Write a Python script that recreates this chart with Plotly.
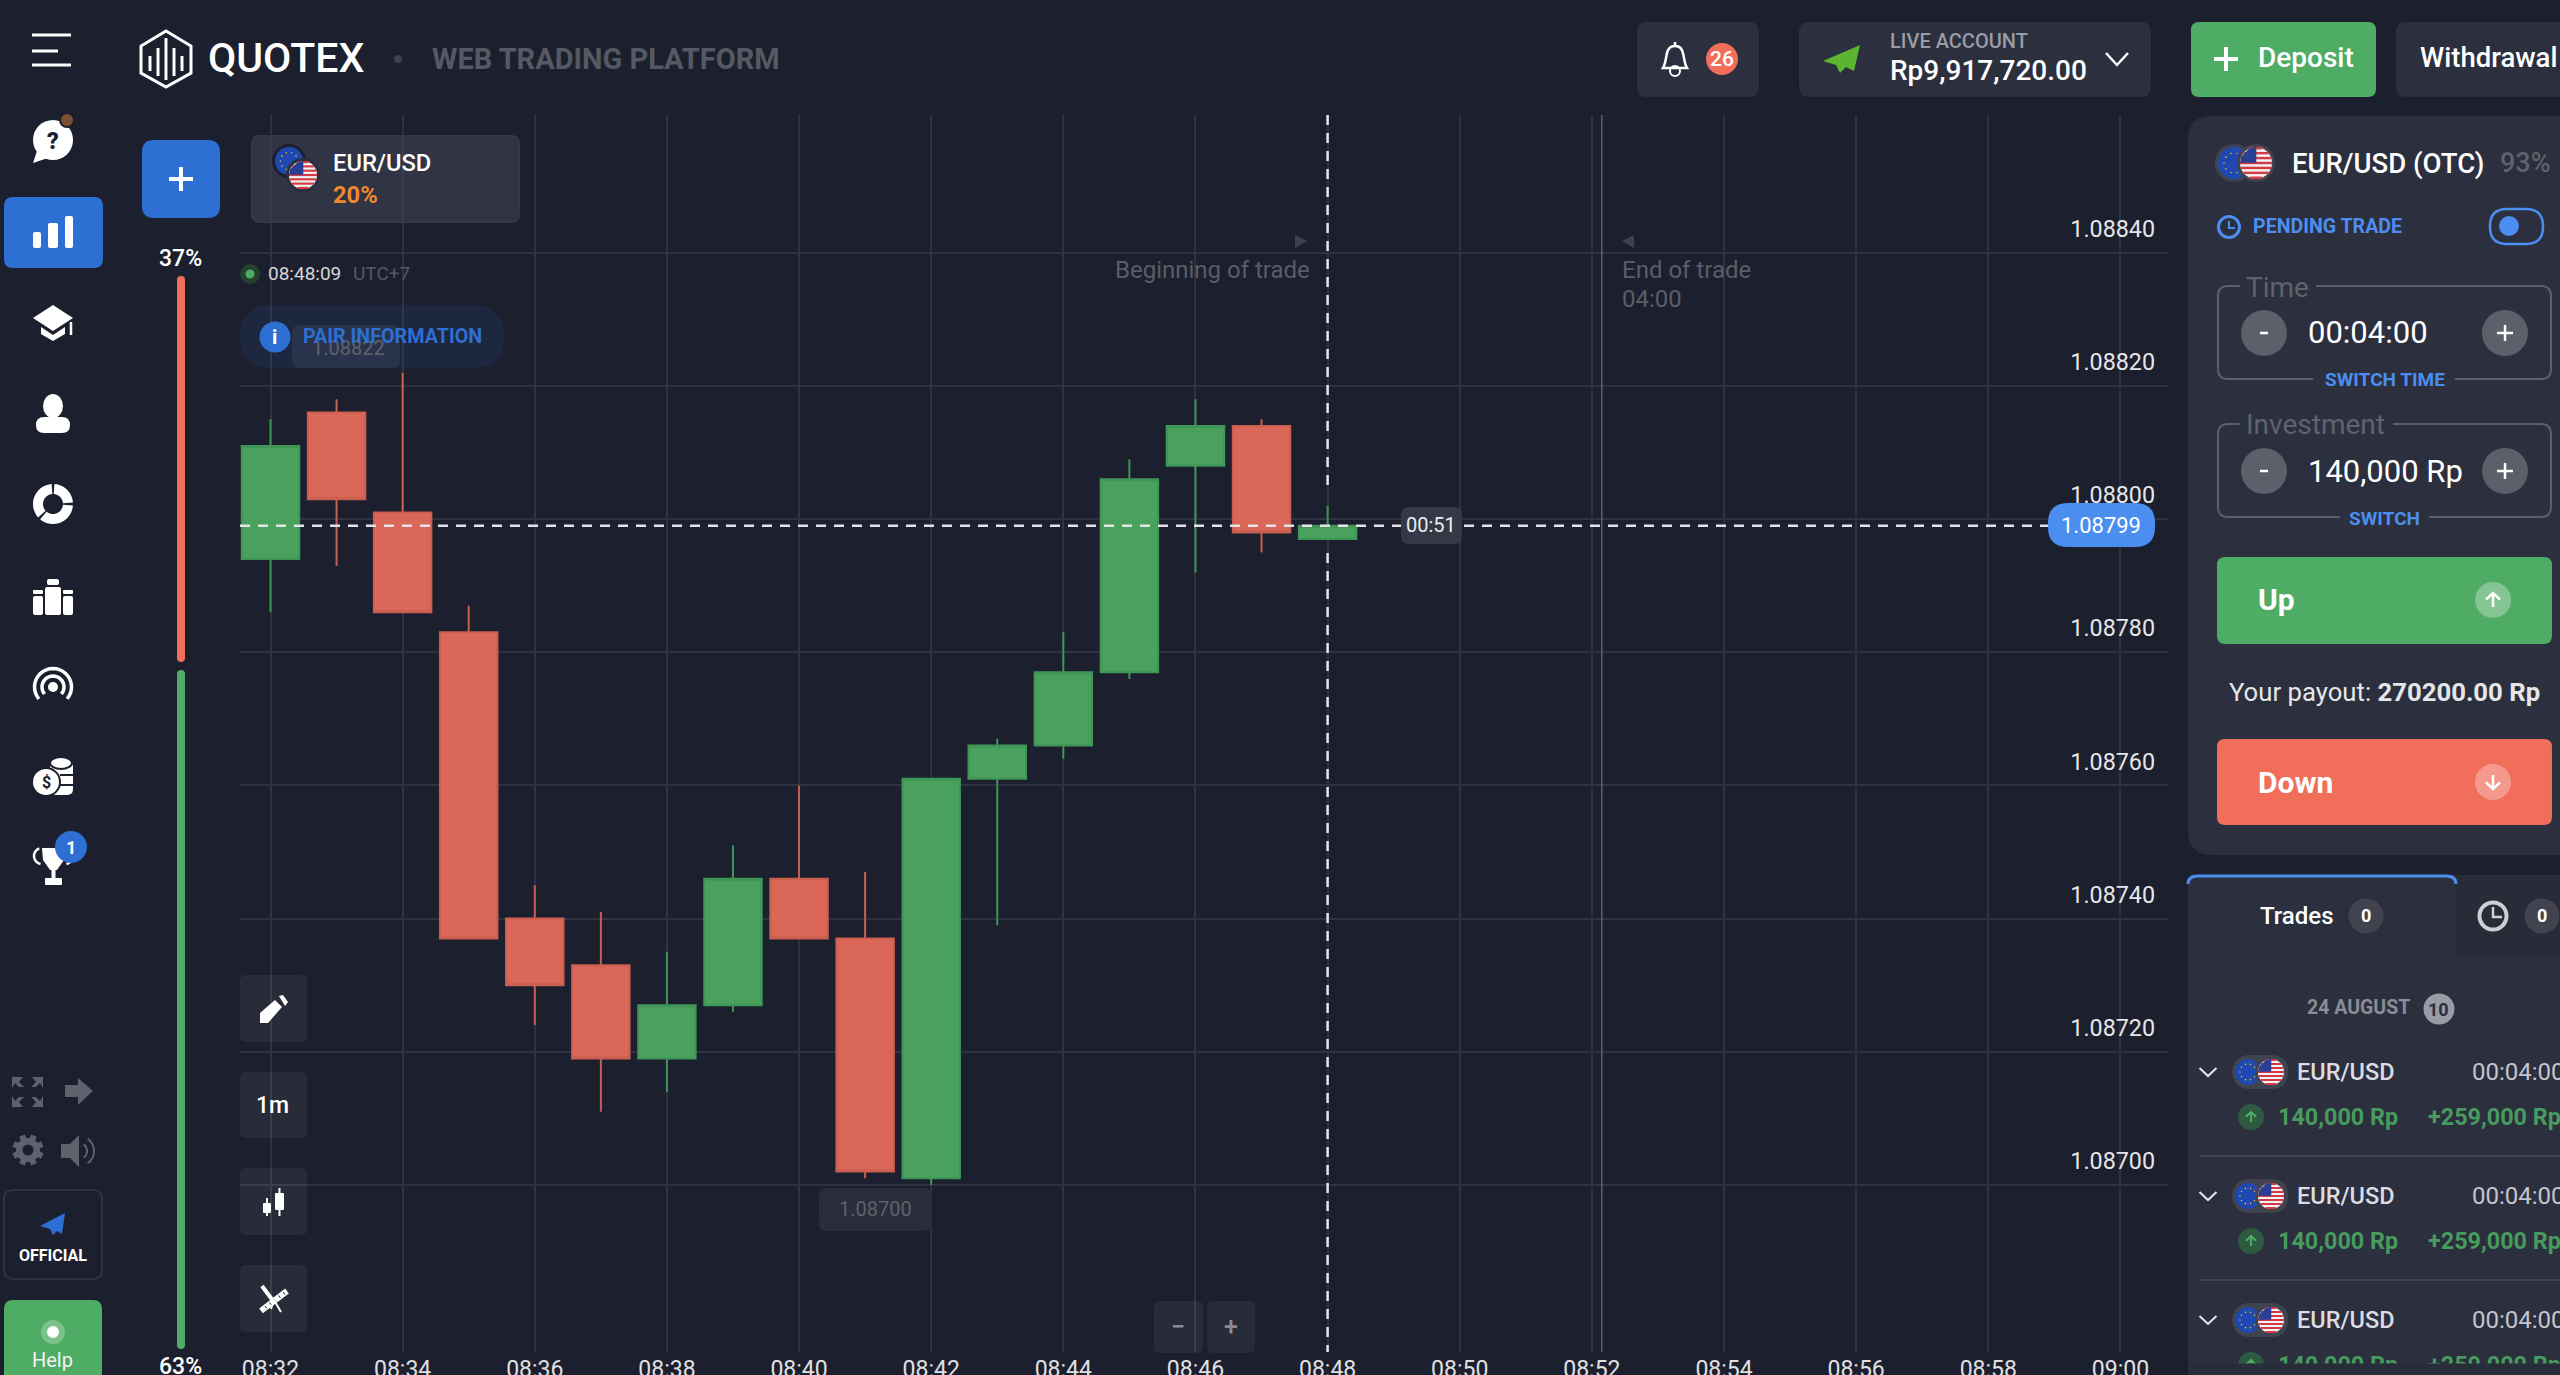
"""Quotex web trading screen: EUR/USD one minute candles with the platform UI around them."""
import math

import plotly.graph_objects as go

W, H = 2560, 1375

times = [
    "2023-08-24 08:32", "2023-08-24 08:33", "2023-08-24 08:34", "2023-08-24 08:35",
    "2023-08-24 08:36", "2023-08-24 08:37", "2023-08-24 08:38", "2023-08-24 08:39",
    "2023-08-24 08:40", "2023-08-24 08:41", "2023-08-24 08:42", "2023-08-24 08:43",
    "2023-08-24 08:44", "2023-08-24 08:45", "2023-08-24 08:46", "2023-08-24 08:47",
    "2023-08-24 08:48",
]
opens = [1.08794, 1.08816, 1.08801, 1.08783, 1.08740, 1.08733, 1.08719, 1.08727, 1.08746,
         1.08737, 1.08701, 1.08761, 1.08766, 1.08777, 1.08808, 1.08814, 1.08797]
highs = [1.08815, 1.08818, 1.08822, 1.08787, 1.08745, 1.08741, 1.08735, 1.08751, 1.08760,
         1.08747, 1.08761, 1.08767, 1.08783, 1.08809, 1.08818, 1.08815, 1.08802]
lows = [1.08786, 1.08793, 1.08786, 1.08737, 1.08724, 1.08711, 1.08714, 1.08726, 1.08737,
        1.08701, 1.08700, 1.08739, 1.08764, 1.08776, 1.08792, 1.08795, 1.08797]
closes = [1.08811, 1.08803, 1.08786, 1.08737, 1.08730, 1.08719, 1.08727, 1.08746, 1.08737,
          1.08702, 1.08761, 1.08766, 1.08777, 1.08806, 1.08814, 1.08798, 1.08799]

price_ticks = [1.08700, 1.08720, 1.08740, 1.08760, 1.08780, 1.08800, 1.08820, 1.08840]
time_ticks = [
    "2023-08-24 08:32", "2023-08-24 08:34", "2023-08-24 08:36", "2023-08-24 08:38",
    "2023-08-24 08:40", "2023-08-24 08:42", "2023-08-24 08:44", "2023-08-24 08:46",
    "2023-08-24 08:48", "2023-08-24 08:50", "2023-08-24 08:52", "2023-08-24 08:54",
    "2023-08-24 08:56", "2023-08-24 08:58", "2023-08-24 09:00",
]
time_labels = ["08:32", "08:34", "08:36", "08:38", "08:40", "08:42", "08:44", "08:46",
               "08:48", "08:50", "08:52", "08:54", "08:56", "08:58", "09:00"]
trade_end = "2023-08-24 08:52:09"
current_price = closes[-1]

BG = "#1c1f2d"
PANEL = "#2c2f3e"
BUTTON = "rgba(255,255,255,0.055)"
GRID = "#2f3240"
GREEN = "#4fac65"
RED = "#f06e5a"
BLUE = "#2e6fd3"
LIGHT_BLUE = "#4c8ef0"
GRAY = "#5f626d"
WHITE = "#ffffff"

shapes = []
notes = []


def px(x):
    return round(x / W, 5)


def py(y):
    return round(1 - y / H, 5)


def pt(x, y):
    return f"{px(x)},{py(y)}"


def path(d, fill=None, line=None, width=0):
    s = dict(type="path", xref="paper", yref="paper", path=d, layer="above")
    s["fillcolor"] = fill if fill else "rgba(0,0,0,0)"
    s["line"] = dict(color=line, width=width) if line else dict(width=0)
    shapes.append(s)


def rrect(x0, y0, x1, y1, r=8, fill=None, line=None, width=0):
    d = (f"M{pt(x0 + r, y0)} L{pt(x1 - r, y0)} Q{pt(x1, y0)} {pt(x1, y0 + r)} "
         f"L{pt(x1, y1 - r)} Q{pt(x1, y1)} {pt(x1 - r, y1)} L{pt(x0 + r, y1)} "
         f"Q{pt(x0, y1)} {pt(x0, y1 - r)} L{pt(x0, y0 + r)} Q{pt(x0, y0)} {pt(x0 + r, y0)} Z")
    path(d, fill, line, width)


def ell(cx, cy, rx, ry=None, fill=None, line=None, width=0):
    ry = rx if ry is None else ry
    s = dict(type="circle", xref="paper", yref="paper", layer="above",
             x0=px(cx - rx), x1=px(cx + rx), y0=py(cy + ry), y1=py(cy - ry))
    s["fillcolor"] = fill if fill else "rgba(0,0,0,0)"
    s["line"] = dict(color=line, width=width) if line else dict(width=0)
    shapes.append(s)


def poly(points, fill=WHITE):
    path("M" + " L".join(pt(x, y) for x, y in points) + " Z", fill)


def seg(x0, y0, x1, y1, color=WHITE, width=2):
    shapes.append(dict(type="line", xref="paper", yref="paper", layer="above",
                       x0=px(x0), x1=px(x1), y0=py(y0), y1=py(y1),
                       line=dict(color=color, width=width)))


def arc_points(cx, cy, r, a0, a1, n=24):
    out = []
    for i in range(n + 1):
        a = math.radians(a0 + (a1 - a0) * i / n)
        out.append((cx + r * math.cos(a), cy - r * math.sin(a)))
    return out


def arc(cx, cy, r, a0, a1, color=WHITE, width=3):
    path("M" + " L".join(pt(x, y) for x, y in arc_points(cx, cy, r, a0, a1)), None, color, width)


def ring_seg(cx, cy, r0, r1, a0, a1, fill=WHITE):
    poly(arc_points(cx, cy, r1, a0, a1) + arc_points(cx, cy, r0, a1, a0), fill)


def txt(x, y, s, size, color=WHITE, weight=400, anchor="left"):
    notes.append(dict(xref="paper", yref="paper", x=px(x), y=py(y), text=s, showarrow=False,
                      xanchor=anchor, yanchor="middle", borderpad=0, borderwidth=0,
                      font=dict(family="Roboto", size=size, color=color, weight=weight)))


def chevron(cx, cy, hw, hh, color=WHITE, width=2):
    path(f"M{pt(cx - hw, cy - hh)} L{pt(cx, cy + hh)} L{pt(cx + hw, cy - hh)}", None, color, width)


def flag_eu(cx, cy, r, ring="#41444f"):
    ell(cx, cy, r + 3, fill=ring)
    ell(cx, cy, r, fill="#1f48b0")
    for i in range(10):
        a = math.radians(36 * i)
        ell(cx + 0.62 * r * math.cos(a), cy + 0.62 * r * math.sin(a), 0.8, fill="#e2c23c")


def flag_us(cx, cy, r, ring="#41444f"):
    ell(cx, cy, r + 3, fill=ring)
    ell(cx, cy, r, fill="#f1f1f3")
    n = 7
    for i in range(n):
        y0 = cy - r + (2 * i) * (2 * r) / (2 * n - 1)
        y1 = y0 + (2 * r) / (2 * n - 1)
        mid = (y0 + y1) / 2 - cy
        hw = math.sqrt(max(r * r - mid * mid, 0))
        poly([(cx - hw, y0), (cx + hw, y0), (cx + hw, y1), (cx - hw, y1)], "#d43a42")
    poly([(cx - 0.92 * r, cy - 0.4 * r), (cx - 0.4 * r, cy - 0.92 * r), (cx + 0.02 * r, cy - r),
          (cx + 0.02 * r, cy - 0.02 * r), (cx - r, cy - 0.02 * r)], "#2a3f94")


def arrow_icon(cx, cy, up=True, color=WHITE, size=7, width=2.5):
    k = -1 if up else 1
    seg(cx, cy - k * size, cx, cy + k * size, color, width)
    path(f"M{pt(cx - size, cy + k * (size * 0.05))} L{pt(cx, cy + k * size)} "
         f"L{pt(cx + size, cy + k * (size * 0.05))}", None, color, width)


def header():
    for y, x1 in [(35, 71), (51, 58), (65, 71)]:
        seg(32, y, x1, y, WHITE, 3)
    path(f"M{pt(166, 31)} L{pt(191, 46)} L{pt(191, 73)} L{pt(166, 87)} L{pt(141, 73)} L{pt(141, 46)} Z",
         None, WHITE, 3)
    for x, y0, y1 in [(150, 56, 71), (158, 48, 76), (166, 38, 80), (174, 48, 76), (182, 56, 71)]:
        seg(x, y0, x, y1, WHITE, 3)
    txt(208, 58, "QUOTEX", 41, WHITE, 500)
    ell(398, 59, 4, fill="#3f424e")
    txt(432, 59, "WEB TRADING PLATFORM", 29, "#565964", 700)

    rrect(1637, 22, 1759, 97, 10, PANEL)
    path(f"M{pt(1663, 68)} C{pt(1668, 60)} {pt(1664, 46)} {pt(1675, 46)} "
         f"C{pt(1686, 46)} {pt(1682, 60)} {pt(1687, 68)} Z", None, WHITE, 2.5)
    ell(1675, 71, 5, None, None, WHITE, 2)
    seg(1675, 42, 1675, 46, WHITE, 2.5)
    ell(1722, 59, 16, fill=RED)
    txt(1722, 59, "26", 21, WHITE, 500, "center")

    rrect(1799, 22, 2151, 97, 10, PANEL)
    poly([(1860, 45), (1823, 61), (1836, 65), (1840, 73), (1846, 67), (1854, 71)], "#5cb531")
    txt(1890, 41, "LIVE ACCOUNT", 20, "#9a9ca5", 500)
    txt(1890, 70, "Rp9,917,720.00", 28, WHITE, 500)
    chevron(2117, 59, 11, 6, WHITE, 2.5)

    rrect(2191, 22, 2376, 97, 8, GREEN)
    seg(2226, 47, 2226, 71, WHITE, 4)
    seg(2214, 59, 2238, 59, WHITE, 4)
    txt(2258, 58, "Deposit", 28, WHITE, 500)
    rrect(2396, 22, 2600, 97, 10, PANEL)
    txt(2420, 58, "Withdrawal", 27.5, WHITE, 500)


def sidebar():
    ell(53, 140, 20, fill=WHITE)
    poly([(33, 163), (38, 148), (48, 158)], WHITE)
    txt(53, 141, "?", 23, BG, 900, "center")
    ell(67, 120, 8, fill=BG)
    ell(67, 120, 6, fill="#7a5230")

    rrect(4, 197, 103, 268, 9, BLUE)
    for x0, x1, y0 in [(33, 41, 232), (48, 58, 223), (65, 73, 216)]:
        rrect(x0, y0, x1, 248, 2, WHITE)

    poly([(53, 305), (73, 318), (53, 331), (33, 318)])
    poly([(41, 327), (53, 335), (65, 327), (65, 334), (53, 341), (41, 334)])
    seg(71, 322, 71, 335, WHITE, 2.5)

    ell(53, 406, 10, 12, fill=WHITE)
    rrect(36, 417, 70, 433, 8, WHITE)

    ring_seg(53, 504, 10, 20, 4, 86)
    ring_seg(53, 504, 10, 20, 94, 222)
    ring_seg(53, 504, 10, 20, 230, 356)

    rrect(45, 587, 61, 615, 2, WHITE)
    rrect(47, 579, 59, 585, 2, WHITE)
    rrect(33, 596, 43, 615, 2, WHITE)
    rrect(33, 590, 43, 594, 1, WHITE)
    rrect(63, 596, 73, 615, 2, WHITE)
    rrect(63, 590, 73, 594, 1, WHITE)

    ell(53, 687, 5, fill=WHITE)
    arc(53, 687, 11, -40, 220, WHITE, 3.5)
    arc(53, 687, 18.5, -40, 220, WHITE, 3.5)

    rrect(50, 760, 73, 795, 6, WHITE)
    ell(61, 763, 11, 6, fill=WHITE, line=BG, width=2)
    seg(60, 775, 73, 775, BG, 2)
    seg(60, 785, 73, 785, BG, 2)
    ell(46, 782, 15, fill=BG)
    ell(46, 782, 13, fill=WHITE)
    txt(46, 783, "$", 16, BG, 700, "center")

    poly([(42, 848), (65, 848), (64, 860), (57, 870), (50, 870), (43, 860)])
    arc(42, 856, 8, 110, 260, WHITE, 2.5)
    arc(65, 856, 8, -80, 70, WHITE, 2.5)
    seg(53.5, 868, 53.5, 878, WHITE, 4)
    rrect(45, 878, 62, 885, 1, WHITE)
    ell(71, 847, 16, fill=BLUE)
    txt(71, 847, "1", 18, WHITE, 700, "center")

    g = GRAY
    poly([(12, 1077), (23, 1077), (19, 1082), (24, 1087), (19, 1087), (15, 1083), (12, 1088)], g)
    poly([(43, 1077), (32, 1077), (36, 1082), (31, 1087), (36, 1087), (40, 1083), (43, 1088)], g)
    poly([(12, 1107), (23, 1107), (19, 1102), (24, 1097), (19, 1097), (15, 1101), (12, 1096)], g)
    poly([(43, 1107), (32, 1107), (36, 1102), (31, 1097), (36, 1097), (40, 1101), (43, 1096)], g)
    poly([(65, 1085), (78, 1085), (78, 1078), (93, 1091), (78, 1105), (78, 1097), (65, 1097)], g)
    ell(28, 1150, 12, fill=g)
    for i in range(8):
        a = math.radians(45 * i + 22.5)
        seg(28 + 10 * math.cos(a), 1150 + 10 * math.sin(a),
            28 + 15.5 * math.cos(a), 1150 + 15.5 * math.sin(a), g, 6)
    ell(28, 1150, 5.5, fill=BG)
    poly([(61, 1144), (70, 1144), (79, 1135), (79, 1167), (70, 1158), (61, 1158)], g)
    arc(79, 1151, 8, -55, 55, g, 2)
    arc(79, 1151, 15, -55, 55, g, 2)

    rrect(4, 1190, 102, 1279, 9, None, "#2f3240", 2)
    poly([(65, 1213), (40, 1226), (50, 1229), (53, 1235), (57, 1231), (62, 1234)], BLUE)
    txt(53, 1256, "OFFICIAL", 16, WHITE, 700, "center")
    rrect(4, 1300, 102, 1400, 9, GREEN)
    ell(53, 1332, 12, fill="rgba(255,255,255,0.25)")
    ell(53, 1332, 6, fill=WHITE)
    txt(53, 1360, "Help", 20, "#f2f2f2", 400, "center")

    txt(181, 258, "37%", 23, WHITE, 500, "center")
    rrect(177, 276, 185, 662, 4, RED)
    rrect(177, 670, 185, 1349, 4, GREEN)
    txt(181, 1367, "63%", 23, WHITE, 500, "center")


def chart_overlays():
    rrect(142, 140, 220, 218, 12, BLUE)
    seg(181, 167, 181, 191, WHITE, 4)
    seg(169, 179, 193, 179, WHITE, 4)

    rrect(252, 136, 519, 222, 8, "rgba(66,70,88,0.55)", "#353846", 2)
    flag_eu(289, 161, 14, BG)
    flag_us(303, 175, 14, "#2c2f3e")
    txt(333, 163, "EUR/USD", 23.7, WHITE, 500)
    txt(333, 195, "20%", 23.7, "#f0892e", 700)

    ell(250, 274, 10, fill="#24402f")
    ell(250, 274, 4.5, fill=GREEN)
    txt(268, 274, "08:48:09", 19, "#d6d6da")
    txt(353, 274, "UTC+7", 19, "#565964")

    rrect(240, 305, 504, 368, 31, "rgba(46,111,211,0.11)")
    rrect(292, 325, 400, 368, 8, "rgba(90,100,130,0.2)")
    txt(312, 348, "1.08822", 20, GRAY)
    ell(275, 337, 15.5, fill=BLUE)
    txt(275, 337, "i", 20, WHITE, 700, "center")
    txt(303, 337, "PAIR INFORMATION", 19.7, BLUE, 700)

    for y0, y1 in [(975, 1042), (1072, 1138), (1168, 1235), (1265, 1332)]:
        rrect(240, y0, 307, y1, 6, BUTTON)
    poly([(260, 1013), (275, 1000), (282, 1007), (268, 1023), (260, 1023)])
    poly([(279, 996), (283, 995), (288, 1002), (285, 1006)])
    txt(273, 1105, "1m", 23, WHITE, 500, "center")
    rrect(263, 1203, 271, 1213, 1, WHITE)
    seg(267, 1198, 267, 1216, WHITE, 2)
    rrect(275, 1193, 284, 1210, 1, WHITE)
    seg(279.5, 1188, 279.5, 1216, WHITE, 2)
    # ruler and compass
    seg(261, 1311, 287, 1291, WHITE, 6)
    for i in range(5):
        seg(265 + 4.5 * i, 1306 - 3.5 * i, 267 + 4.5 * i, 1308.5 - 3.5 * i, BG, 1)
    seg(262, 1286, 274, 1302, WHITE, 4)
    seg(274, 1300, 281, 1312, WHITE, 2)
    seg(274, 1300, 271, 1309, WHITE, 2)

    rrect(1154, 1301, 1203, 1353, 6, BUTTON)
    rrect(1207, 1301, 1255, 1353, 6, BUTTON)
    txt(1178, 1327, "−", 25, "#8a8c95", 500, "center")
    txt(1231, 1327, "+", 25, "#8a8c95", 500, "center")

    # price and clock guides, tied to the data axes
    dash = dict(color="#e4e4e8", width=2.5, dash="10px,8px")
    shapes.append(dict(type="line", layer="above", xref="paper", yref="y", x0=px(240), x1=px(2050),
                       y0=current_price, y1=current_price, line=dash))
    shapes.append(dict(type="line", layer="above", xref="x", yref="paper", x0=times[-1], x1=times[-1],
                       y0=py(115), y1=py(489), line=dash))
    shapes.append(dict(type="line", layer="above", xref="x", yref="paper", x0=times[-1], x1=times[-1],
                       y0=py(553), y1=py(1352), line=dash))
    shapes.append(dict(type="line", layer="above", xref="x", yref="paper", x0=trade_end, x1=trade_end,
                       y0=py(115), y1=py(1352), line=dict(color="#5d606b", width=1.5)))

    rrect(1401, 507, 1462, 544, 8, "#353846")
    txt(1431, 525, "00:51", 20, "#ececef", 400, "center")
    rrect(2048, 503, 2155, 547, 20, LIGHT_BLUE)
    txt(2101, 525, f"{current_price:.5f}", 22, WHITE, 400, "center")

    rrect(819, 1188, 932, 1231, 8, "#2a2d3a")
    txt(875, 1209, "1.08700", 20, GRAY, 400, "center")

    poly([(1295, 235), (1307, 241), (1295, 248)], "#3f424e")
    txt(1115, 270, "Beginning of trade", 24, "#5a5d68")
    poly([(1634, 235), (1622, 241), (1634, 248)], "#3f424e")
    txt(1622, 270, "End of trade", 24, "#5a5d68")
    txt(1622, 299, "04:00", 24, "#5a5d68")


def order_panel():
    path(f"M{pt(2212, 116)} L{pt(2600, 116)} L{pt(2600, 855)} L{pt(2212, 855)} "
         f"Q{pt(2188, 855)} {pt(2188, 831)} L{pt(2188, 140)} Q{pt(2188, 116)} {pt(2212, 116)} Z", PANEL)
    flag_eu(2234, 163, 16)
    flag_us(2256, 163, 16)
    txt(2292, 163, "EUR/USD (OTC)", 27.5, WHITE, 500)
    txt(2500, 163, "93%", 27, GRAY, 500)

    ell(2229, 227, 10.5, None, None, LIGHT_BLUE, 3)
    path(f"M{pt(2229, 221)} L{pt(2229, 228)} L{pt(2235, 228)}", None, LIGHT_BLUE, 2)
    txt(2253, 227, "PENDING TRADE", 19.6, LIGHT_BLUE, 700)
    rrect(2490, 209, 2543, 244, 17, None, LIGHT_BLUE, 2.5)
    ell(2509, 226, 10, fill=LIGHT_BLUE)

    box = "#5c5f6a"
    for top, bottom, gap0, gap1, gap2, gap3 in [(286, 379, 2240, 2316, 2313, 2455),
                                                (424, 517, 2240, 2393, 2340, 2429)]:
        path(f"M{pt(gap0, top)} L{pt(2228, top)} Q{pt(2218, top)} {pt(2218, top + 10)} "
             f"L{pt(2218, bottom - 10)} Q{pt(2218, bottom)} {pt(2228, bottom)} L{pt(gap2, bottom)}",
             None, box, 2)
        path(f"M{pt(gap1, top)} L{pt(2541, top)} Q{pt(2551, top)} {pt(2551, top + 10)} "
             f"L{pt(2551, bottom - 10)} Q{pt(2551, bottom)} {pt(2541, bottom)} L{pt(gap3, bottom)}",
             None, box, 2)
    txt(2246, 287, "Time", 28, GRAY)
    txt(2246, 425, "Investment", 28, GRAY)
    for y, value in [(333, "00:04:00"), (471, "140,000 Rp")]:
        ell(2264, y, 23, fill="#5d606b")
        seg(2260, y, 2268, y, WHITE, 2.5)
        ell(2505, y, 23, fill="#5d606b")
        seg(2505, y - 8, 2505, y + 8, WHITE, 2.5)
        seg(2497, y, 2513, y, WHITE, 2.5)
        txt(2308, y, value, 31, WHITE)
    txt(2385, 380, "SWITCH TIME", 19, LIGHT_BLUE, 700, "center")
    txt(2385, 518, "SWITCH", 19, LIGHT_BLUE, 700, "center")

    rrect(2217, 557, 2552, 644, 8, GREEN)
    txt(2258, 600, "Up", 30, WHITE, 700)
    ell(2493, 600, 18, fill="rgba(255,255,255,0.3)")
    arrow_icon(2493, 600, True)
    txt(2229, 692, "Your payout: <b>270200.00 Rp</b>", 25.7, "#e6e6e9")
    rrect(2217, 739, 2552, 825, 8, RED)
    txt(2258, 782, "Down", 30, WHITE, 700)
    ell(2493, 782, 18, fill="rgba(255,255,255,0.3)")
    arrow_icon(2493, 782, False)


def trades_panel():
    path(f"M{pt(2188, 885)} Q{pt(2188, 875)} {pt(2198, 875)} L{pt(2600, 875)} "
         f"L{pt(2600, 1380)} L{pt(2188, 1380)} Z", PANEL)
    rrect(2456, 875, 2600, 958, 0.1, "#282b38")
    path(f"M{pt(2188, 884)} Q{pt(2188, 876)} {pt(2198, 876)} L{pt(2446, 876)} Q{pt(2456, 876)} {pt(2456, 884)}",
         None, LIGHT_BLUE, 3)
    txt(2260, 916, "Trades", 24, WHITE, 500)
    ell(2366, 916, 17.5, fill="#41444f")
    txt(2366, 916, "0", 18, WHITE, 700, "center")
    ell(2493, 916, 13.5, None, None, "#cfd0d4", 4)
    path(f"M{pt(2493, 907)} L{pt(2493, 917)} L{pt(2502, 917)}", None, "#cfd0d4", 2.5)
    ell(2542, 916, 17.5, fill="#41444f")
    txt(2542, 916, "0", 18, WHITE, 700, "center")

    txt(2307, 1008, "24 AUGUST", 19.5, "#8b8d96", 700)
    ell(2439, 1009, 15.5, fill="#9a9ca5")
    txt(2439, 1009, "10", 18, PANEL, 700, "center")

    for y in [1072, 1196, 1320]:
        chevron(2208, y, 8.5, 4, "#e6e6e9", 2)
        rrect(2233, y - 17, 2288, y + 17, 17, "#41444f")
        flag_eu(2248, y, 13, "#41444f")
        flag_us(2271, y, 13, "#41444f")
        txt(2297, y, "EUR/USD", 23.5, "#dcdce0", 500)
        txt(2472, y, "00:04:00", 24, "#c4c5ca")
        ell(2251, y + 45, 13, 13, fill="#2e5a42")
        arrow_icon(2251, y + 45, True, GREEN, 5, 2)
        txt(2278, y + 45, "140,000 Rp", 23.4, "#469b5d", 700)
        txt(2428, y + 45, "+259,000 Rp", 23.4, "#469b5d", 700)
    seg(2200, 1156, 2560, 1156, "#41444f", 2)
    seg(2200, 1280, 2560, 1280, "#41444f", 2)

    # bottom strip hides the row that scrolls off
    notes.append(dict(xref="paper", yref="paper", x=px(2188), y=py(1363), text=" ", showarrow=False,
                      xanchor="left", yanchor="top", width=372, height=14, bgcolor="#292c39",
                      borderpad=0, font=dict(family="Roboto", size=10, color="#292c39")))
    poly([(2379, 1374), (2385, 1368), (2391, 1374)], WHITE)


header()
sidebar()
chart_overlays()
order_panel()
trades_panel()

fig = go.Figure(go.Candlestick(
    x=times, open=opens, high=highs, low=lows, close=closes,
    whiskerwidth=0, hoverinfo="skip",
    increasing=dict(line=dict(color="#3f9555", width=2), fillcolor="#4aa15e"),
    decreasing=dict(line=dict(color="#c95f50", width=2), fillcolor="#da6757"),
))

fig.update_layout(
    width=W,
    height=H,
    margin=dict(l=0, r=0, t=0, b=0, autoexpand=False),
    paper_bgcolor=BG,
    plot_bgcolor=BG,
    showlegend=False,
    boxgap=0.13,
    boxgroupgap=0,
    font=dict(family="Roboto", color="#e6e6e8"),
    xaxis=dict(
        domain=[240 / W, 2168 / W],
        range=["2023-08-24 08:31:32.3", "2023-08-24 09:00:43.2"],
        type="date",
        tickvals=time_ticks,
        ticktext=time_labels,
        ticks="",
        tickfont=dict(size=23, color="#e0e0e3"),
        showgrid=True,
        gridcolor=GRID,
        gridwidth=1.5,
        zeroline=False,
        showline=False,
        rangeslider=dict(visible=False),
        ticklabelstandoff=1,
    ),
    # left side of a free axis parked on the right edge: labels sit inside the plot
    # without hiding the 09:00 gridline, which ticklabelposition="inside" would do
    yaxis=dict(
        domain=[(H - 1352) / H, (H - 115) / H],
        range=[1.086749, 1.088607],
        side="left",
        anchor="free",
        position=2168 / W,
        tickvals=price_ticks,
        tickformat=".5f",
        ticks="",
        ticklabelstandoff=13,
        ticklabelshift=-24,
        tickfont=dict(size=23.3, color="#e6e6e8"),
        showgrid=True,
        gridcolor=GRID,
        gridwidth=2,
        zeroline=False,
        showline=False,
    ),
    shapes=shapes,
    annotations=notes,
)

fig.write_html("out.html", config={"displayModeBar": False},
               post_script="document.body.style.margin='0';document.body.style.overflow='hidden';")
